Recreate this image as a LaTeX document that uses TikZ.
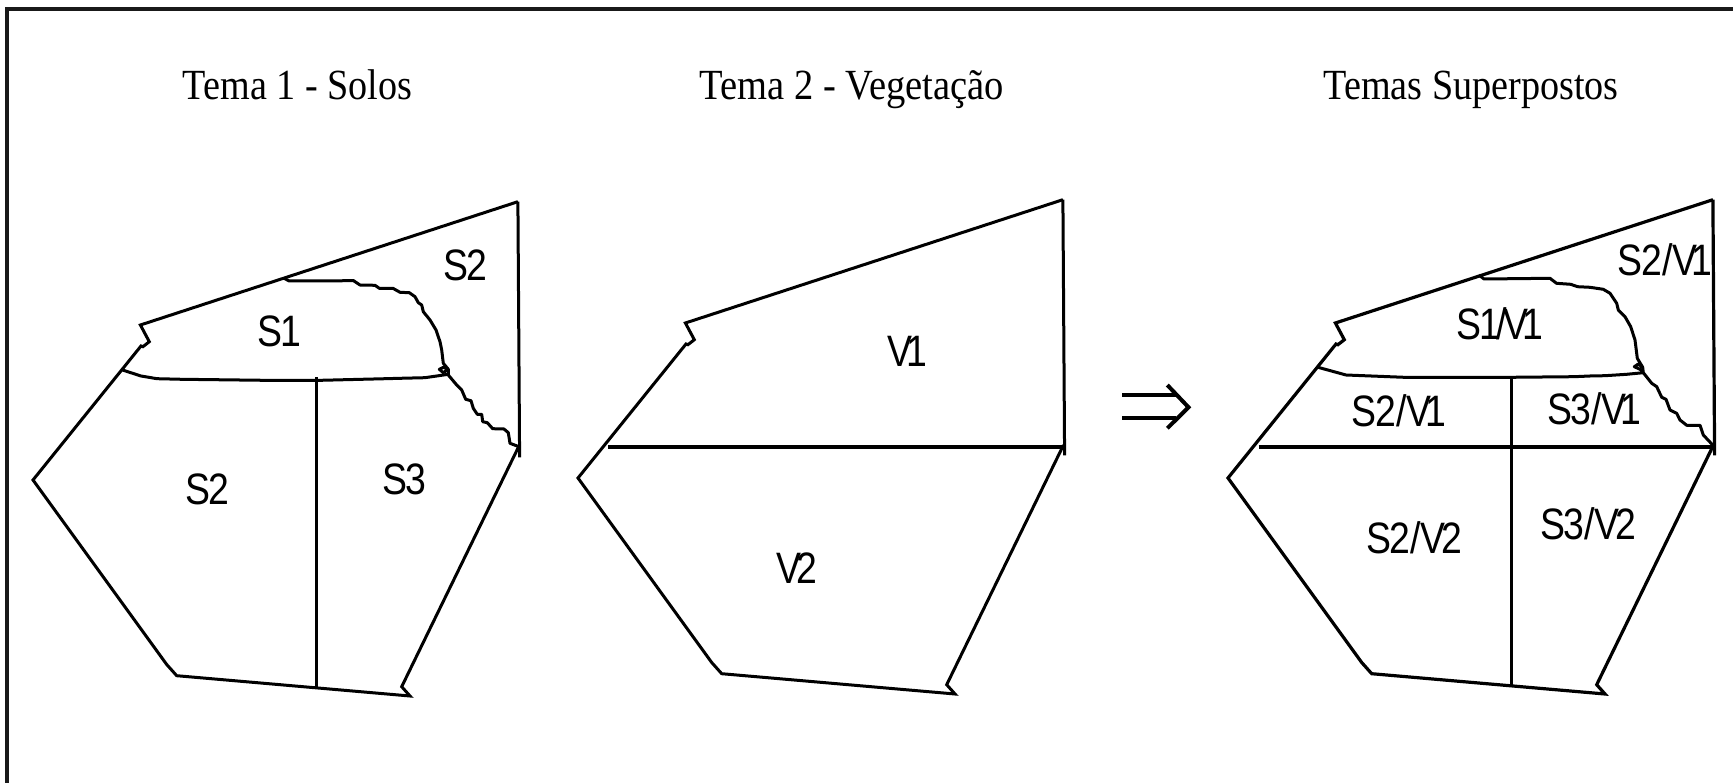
\documentclass[tikz,border=0pt]{standalone}
\usepackage{fontspec}
\setmainfont{Liberation Serif}
\setsansfont[LetterSpace=-5]{Liberation Sans}
\def\mapoutline{(517.9,201.7) -- (140.4,325) -- (149.3,341.7) -- (146.4,344) -- (142.9,346.7) -- (141,346) -- (33,480) -- (166.7,664.5) -- (176.7,675.7) -- (410,696) -- (401.7,686.7) -- (518.5,447)}
\def\mapright{(517.9,201.7) -- (519.6,457.3)}
\newcommand{\Vone}{V\kern-7pt 1}
\newcommand{\Vtwo}{V\kern-5pt 2}
\newcommand{\Slash}{\kern0.5pt/\kern-0.5pt}
\tikzset{
  x=1pt,y=-1pt,
  mapline/.style={line width=3pt,black,line join=miter,line cap=butt},
  thinmap/.style={line width=3pt,black,line join=round},
  titletext/.style={font=\rmfamily\fontsize{43}{47}\selectfont,xscale=.887,transform shape,anchor=base,inner sep=0pt},
  zonetext/.style={font=\sffamily\fontsize{44}{48}\selectfont,xscale=.85,transform shape,inner sep=0pt},
}
\begin{document}
\begin{tikzpicture}
\useasboundingbox (0,0) rectangle (1733,783);
% frame
\draw[line width=3.4pt,black!90] (7,783) -- (7,9) -- (1733,9);
% titles
\node[titletext] (t1) at (297.5,100) {Tema 1 - Solos};
\node[titletext,xscale=1.01] (t2) at (851.6,100) {Tema 2 - Vegetação};
\node[titletext] (t3) at (1471,100) {Temas Superpostos};
% theme 1
\draw[mapline] \mapoutline;
\draw[mapline] \mapright;
\draw[thinmap] (284,278.3) -- (289.3,281) -- (353.6,280.7) -- (360,285) -- (375,285.3) -- (379.3,288.3) -- (392.9,288.3) -- (400,292.3) -- (409.3,292.7) -- (415,296.7) -- (418.3,302.7) -- (421.7,305) -- (423.3,311.7) -- (430,320) -- (436,330) -- (440,341.7) -- (441.7,350) -- (443.3,363.3) -- (448.3,369.3) -- (448.3,375) -- (456.7,385) -- (461.7,390) -- (465.7,399.3) -- (471,400.7) -- (473.3,408.3) -- (477.3,414.3) -- (481.7,414.3) -- (482.7,421.7) -- (487.3,422.7) -- (492.7,428.7) -- (504,429) -- (508.3,432.7) -- (510,443.3) -- (519,446.7);
\draw[thinmap] (122.5,370) -- (141,376) -- (157,378.7) -- (182,379.3) -- (264,380.3) -- (321,380.3) -- (385.7,378.7) -- (400,378.3) -- (425,377.7) -- (436.7,376) -- (448.3,374.3);
\draw[thinmap] (448.3,369.3) -- (443.3,367.3) -- (439.3,369.3) -- (443.3,372.7) -- (448.3,369.3);
\draw[thinmap] (316,377.3) -- (316,688.3);
\node[zonetext] (a1) at (279,331) {S1};
\node[zonetext] (a2) at (465,265.8) {S2};
\node[zonetext] (a3) at (207.5,489.5) {S2};
\node[zonetext] (a4) at (404,479.5) {S3};
% theme 2
\begin{scope}[shift={(545,-2)}]
\draw[mapline] \mapoutline;
\draw[mapline] \mapright;
\draw[line width=3.1pt,black] (63.2,449) -- (519.5,449);
\end{scope}
\node[zonetext] (b1) at (907.5,351.7) {\Vone};
\node[zonetext] (b2) at (797,568.3) {\Vtwo};
% implication arrow
\draw[line width=4pt,black] (1122,395) -- (1176,395);
\draw[line width=4pt,black] (1122,417.7) -- (1176,417.7);
\draw[line width=4pt,black,line join=miter] (1167.3,385) -- (1188.5,407.3) -- (1167.3,428.3);
% overlay
\begin{scope}[shift={(1195,-2)}]
\draw[line width=3.2pt,black] \mapoutline;
\draw[line width=3.2pt,black] \mapright;
\draw[line width=3.1pt,black] (63.5,449) -- (518.5,449);
\draw[thinmap] (316,379) -- (316,688);
\end{scope}
\draw[thinmap] (1478.9,275) -- (1484,279) -- (1550,278.3) -- (1556.5,283.3) -- (1570.7,284.3) -- (1577.6,286.7) -- (1590,287.3) -- (1603.3,289.3) -- (1610,293.3) -- (1616.7,303.3) -- (1618.3,310) -- (1625,316.7) -- (1630.7,326.7) -- (1635,340) -- (1637.3,358.3) -- (1642.7,367.3) -- (1643.3,372.7) -- (1651.7,383.3) -- (1656.7,386.7) -- (1661.7,397.3) -- (1666,399.3) -- (1670,410) -- (1676.7,413.3) -- (1680,420) -- (1686.7,425.3) -- (1700,425.3) -- (1703.3,435) -- (1712.7,445);
\draw[thinmap] (1318,367.3) -- (1346,375) -- (1404,377.3) -- (1511,377.3) -- (1574,376.7) -- (1590,376) -- (1605,375.7) -- (1626.7,374.3) -- (1643.3,372.7);
\draw[thinmap] (1642.7,367.3) -- (1638.3,364) -- (1634.3,366.7) -- (1640,369.3) -- (1643.3,372.7);
\node[zonetext] (c1) at (1665,259.7) {S2\Slash\Vone};
\node[zonetext] (c2) at (1500,324) {S1\kern-5pt/\kern-3pt\Vone};
\node[zonetext] (c3) at (1399,410.8) {S2\Slash\Vone};
\node[zonetext] (c4) at (1594.5,409) {S3\Slash\Vone};
\node[zonetext] (c5) at (1414.5,537.5) {S2\Slash\Vtwo};
\node[zonetext] (c6) at (1588,524) {S3\Slash\Vtwo};
\end{tikzpicture}
\end{document}
